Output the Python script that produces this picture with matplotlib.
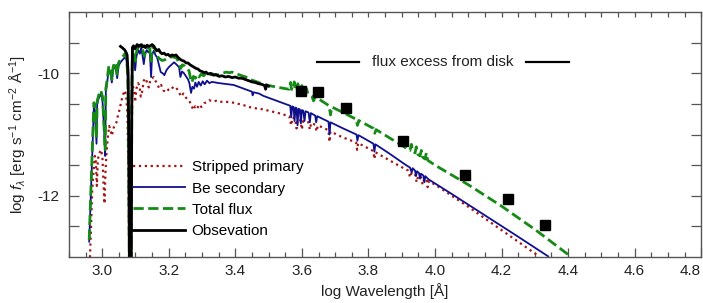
import matplotlib
matplotlib.use("Agg")
import matplotlib.pyplot as plt
from matplotlib.ticker import MultipleLocator, NullFormatter

plt.rcParams["font.family"] = ["Liberation Sans", "DejaVu Sans"]
plt.rcParams["mathtext.fontset"] = "custom"
plt.rcParams["mathtext.rm"] = "Liberation Sans"
plt.rcParams["mathtext.it"] = "Liberation Sans:italic"
plt.rcParams["axes.unicode_minus"] = False

# Stripped primary model (log wavelength, log flux)
sp_x = [2.962, 2.966, 2.970, 2.974, 2.978, 2.981, 2.984, 2.987, 2.992, 2.997, 3.001, 3.004, 3.007, 3.010,
        3.013, 3.017, 3.021, 3.025, 3.029, 3.034, 3.038, 3.043, 3.047, 3.051, 3.056, 3.060, 3.064, 3.068,
        3.072, 3.076, 3.079, 3.082, 3.087, 3.089, 3.091, 3.095, 3.099, 3.103, 3.108, 3.112, 3.116, 3.120,
        3.125, 3.130, 3.135, 3.140, 3.145, 3.150, 3.155, 3.160, 3.165, 3.171, 3.177, 3.184, 3.192, 3.200,
        3.208, 3.215, 3.222, 3.230, 3.237, 3.244, 3.252, 3.261, 3.268, 3.274, 3.279, 3.285, 3.291, 3.298,
        3.306, 3.314, 3.322, 3.332, 3.342, 3.351, 3.365, 3.380, 3.395, 3.410, 3.425, 3.441, 3.460, 3.475,
        3.492, 3.530, 3.562, 3.568, 3.572, 3.580, 3.584, 3.588, 3.596, 3.600, 3.604, 3.620, 3.624, 3.628,
        3.640, 3.644, 3.648, 3.680, 3.683, 3.686, 3.720, 3.763, 3.766, 3.769, 3.815, 3.818, 3.821, 3.860,
        3.892, 3.920, 3.925, 3.930, 3.940, 3.945, 3.950, 3.958, 3.963, 3.968, 3.975, 3.978, 3.982, 4.012,
        4.100, 4.200, 4.310]
sp_y = [-13.20, -12.60, -11.92, -11.60, -11.35, -11.45, -11.84, -11.40, -11.30, -11.25, -11.40, -11.80, -12.13, -11.60,
        -11.30, -11.05, -10.86, -10.92, -11.02, -10.90, -10.84, -10.80, -10.70, -10.62, -10.50, -10.40, -10.33, -10.28,
        -10.35, -10.70, -11.60, -13.50, -13.50, -10.80, -10.20, -10.25, -10.47, -10.25, -10.16, -10.20, -10.38, -10.30,
        -10.12, -10.08, -10.15, -10.23, -10.10, -10.08, -10.06, -10.12, -10.17, -10.24, -10.19, -10.28, -10.31, -10.26,
        -10.22, -10.25, -10.23, -10.30, -10.38, -10.33, -10.40, -10.44, -10.52, -10.60, -10.54, -10.58, -10.51, -10.55,
        -10.49, -10.47, -10.44, -10.46, -10.45, -10.47, -10.46, -10.47, -10.48, -10.50, -10.52, -10.55, -10.57, -10.58,
        -10.60, -10.65, -10.70, -10.85, -10.72, -10.74, -10.90, -10.75, -10.77, -10.92, -10.78, -10.80, -10.92, -10.81,
        -10.84, -10.95, -10.85, -10.93, -11.12, -10.95, -11.04, -11.13, -11.25, -11.14, -11.27, -11.40, -11.29, -11.41,
        -11.51, -11.59, -11.70, -11.62, -11.65, -11.78, -11.67, -11.70, -11.82, -11.72, -11.74, -11.86, -11.76, -11.86,
        -12.18, -12.56, -12.98]

# Be secondary model
be_x = [2.961, 2.964, 2.967, 2.971, 2.975, 2.978, 2.981, 2.983, 2.985, 2.990, 2.996, 3.001, 3.004, 3.006,
        3.009, 3.011, 3.015, 3.020, 3.025, 3.029, 3.033, 3.037, 3.041, 3.045, 3.049, 3.053, 3.058, 3.063,
        3.068, 3.073, 3.077, 3.080, 3.082, 3.087, 3.089, 3.091, 3.095, 3.099, 3.103, 3.108, 3.113, 3.117,
        3.121, 3.125, 3.129, 3.134, 3.139, 3.143, 3.147, 3.150, 3.155, 3.160, 3.165, 3.170, 3.176, 3.182,
        3.187, 3.193, 3.200, 3.208, 3.216, 3.224, 3.231, 3.235, 3.240, 3.246, 3.252, 3.258, 3.262, 3.267,
        3.271, 3.276, 3.280, 3.285, 3.290, 3.296, 3.302, 3.308, 3.315, 3.322, 3.330, 3.340, 3.351, 3.365,
        3.380, 3.395, 3.410, 3.425, 3.440, 3.450, 3.452, 3.455, 3.471, 3.485, 3.500, 3.530, 3.560, 3.565,
        3.568, 3.571, 3.575, 3.578, 3.581, 3.584, 3.587, 3.590, 3.594, 3.597, 3.600, 3.604, 3.608, 3.611,
        3.620, 3.624, 3.627, 3.640, 3.643, 3.646, 3.680, 3.683, 3.686, 3.720, 3.764, 3.767, 3.770, 3.815,
        3.818, 3.821, 3.860, 3.892, 3.913, 3.925, 3.930, 3.933, 3.940, 3.943, 3.946, 3.952, 3.955, 3.958,
        3.965, 3.968, 3.971, 3.980, 4.050, 4.150, 4.250, 4.340]
be_y = [-12.75, -12.30, -11.80, -11.20, -10.55, -10.60, -10.95, -11.15, -10.50, -10.40, -10.33, -10.45, -10.75, -10.95,
        -11.35, -10.30, -10.15, -9.93, -10.00, -10.15, -9.95, -9.87, -9.92, -10.08, -9.88, -9.84, -9.80, -9.77,
        -9.74, -9.78, -10.10, -11.50, -13.50, -13.50, -10.50, -9.65, -9.70, -9.95, -9.72, -9.62, -9.68, -9.58,
        -9.70, -9.85, -9.68, -9.62, -9.66, -9.63, -10.06, -9.70, -9.63, -9.70, -9.74, -9.85, -9.98, -10.00,
        -10.03, -9.95, -9.90, -9.86, -9.82, -9.86, -9.90, -10.06, -9.97, -10.00, -10.05, -10.10, -10.16, -10.32,
        -10.22, -10.25, -10.15, -10.22, -10.14, -10.20, -10.13, -10.18, -10.12, -10.16, -10.14, -10.15, -10.16, -10.17,
        -10.18, -10.19, -10.22, -10.25, -10.28, -10.30, -10.36, -10.31, -10.33, -10.37, -10.40, -10.46, -10.52, -10.53,
        -10.72, -10.54, -10.55, -10.78, -10.56, -10.57, -10.85, -10.58, -10.59, -10.82, -10.60, -10.61, -10.78, -10.62,
        -10.64, -10.80, -10.65, -10.69, -10.80, -10.70, -10.79, -11.00, -10.80, -10.89, -11.00, -11.10, -11.01, -11.15,
        -11.28, -11.16, -11.30, -11.42, -11.50, -11.54, -11.62, -11.55, -11.59, -11.68, -11.60, -11.63, -11.72, -11.64,
        -11.67, -11.78, -11.68, -11.73, -11.97, -12.32, -12.67, -12.99]

# Total model flux
tot_x = [2.961, 2.964, 2.967, 2.971, 2.975, 2.978, 2.981, 2.983, 2.985, 2.990, 2.996, 3.001, 3.004, 3.006,
         3.009, 3.011, 3.015, 3.020, 3.025, 3.029, 3.033, 3.037, 3.041, 3.045, 3.049, 3.053, 3.058, 3.063,
         3.068, 3.073, 3.077, 3.080, 3.082, 3.087, 3.089, 3.091, 3.095, 3.100, 3.104, 3.110, 3.117, 3.122,
         3.127, 3.132, 3.138, 3.143, 3.147, 3.150, 3.155, 3.160, 3.165, 3.172, 3.180, 3.188, 3.195, 3.201,
         3.210, 3.218, 3.225, 3.231, 3.236, 3.241, 3.248, 3.255, 3.261, 3.266, 3.270, 3.274, 3.280, 3.285,
         3.291, 3.298, 3.305, 3.312, 3.321, 3.332, 3.342, 3.351, 3.362, 3.372, 3.382, 3.390, 3.400, 3.410,
         3.420, 3.432, 3.445, 3.460, 3.475, 3.492, 3.510, 3.530, 3.550, 3.562, 3.566, 3.569, 3.574, 3.577,
         3.580, 3.585, 3.588, 3.591, 3.596, 3.600, 3.603, 3.610, 3.614, 3.618, 3.630, 3.635, 3.640, 3.645,
         3.682, 3.686, 3.690, 3.720, 3.763, 3.767, 3.771, 3.815, 3.819, 3.823, 3.862, 3.913, 3.925, 3.929,
         3.933, 3.940, 3.944, 3.948, 3.955, 3.959, 3.963, 3.970, 3.974, 3.978, 4.000, 4.100, 4.200, 4.300,
         4.400]
tot_y = [-12.72, -12.25, -11.75, -11.15, -10.48, -10.52, -10.85, -11.05, -10.45, -10.35, -10.28, -10.38, -10.70, -10.88,
         -11.25, -10.25, -10.10, -9.88, -9.95, -10.10, -9.90, -9.82, -9.87, -10.02, -9.83, -9.79, -9.75, -9.72,
         -9.68, -9.72, -10.05, -11.50, -13.50, -13.50, -10.40, -9.58, -9.62, -9.80, -9.62, -9.56, -9.55, -9.62,
         -9.72, -9.62, -9.57, -9.60, -9.80, -9.60, -9.55, -9.62, -9.72, -9.76, -9.79, -9.78, -9.75, -9.74,
         -9.73, -9.74, -9.76, -9.85, -9.92, -9.86, -9.88, -9.92, -9.96, -10.10, -10.15, -10.05, -10.08, -10.02,
         -10.06, -10.01, -10.04, -10.00, -10.03, -10.01, -10.03, -10.02, -10.00, -9.98, -9.99, -9.98, -10.00, -10.02,
         -10.04, -10.06, -10.10, -10.13, -10.16, -10.19, -10.21, -10.23, -10.25, -10.26, -10.15, -10.26, -10.27, -10.14,
         -10.27, -10.28, -10.17, -10.29, -10.30, -10.20, -10.30, -10.32, -10.25, -10.33, -10.37, -10.45, -10.39, -10.40,
         -10.53, -10.68, -10.55, -10.63, -10.75, -10.85, -10.77, -10.90, -10.98, -10.92, -11.05, -11.22, -11.26, -11.16,
         -11.27, -11.30, -11.20, -11.32, -11.35, -11.26, -11.37, -11.40, -11.30, -11.42, -11.50, -11.82, -12.17, -12.55,
         -12.96]

# Observed UV spectrum
obs_x = [3.055, 3.060, 3.064, 3.068, 3.072, 3.075, 3.078, 3.080, 3.082, 3.087, 3.089, 3.091, 3.094, 3.098,
         3.101, 3.105, 3.110, 3.114, 3.118, 3.122, 3.126, 3.130, 3.135, 3.140, 3.145, 3.150, 3.155, 3.160,
         3.165, 3.170, 3.175, 3.180, 3.186, 3.192, 3.198, 3.204, 3.210, 3.216, 3.222, 3.228, 3.234, 3.240,
         3.246, 3.252, 3.258, 3.264, 3.270, 3.276, 3.282, 3.288, 3.294, 3.300, 3.306, 3.312, 3.318, 3.326,
         3.334, 3.342, 3.351, 3.360, 3.370, 3.380, 3.390, 3.400, 3.410, 3.420, 3.430, 3.440, 3.450, 3.460,
         3.470, 3.480, 3.488, 3.491, 3.494, 3.500]
obs_y = [-9.56, -9.58, -9.60, -9.62, -9.66, -9.70, -10.00, -11.00, -13.50, -13.50, -10.50, -9.58, -9.55, -9.60,
         -9.57, -9.53, -9.56, -9.54, -9.53, -9.57, -9.55, -9.58, -9.54, -9.56, -9.55, -9.53, -9.56, -9.60,
         -9.63, -9.61, -9.66, -9.68, -9.67, -9.70, -9.69, -9.72, -9.70, -9.71, -9.70, -9.74, -9.77, -9.79,
         -9.80, -9.83, -9.83, -9.86, -9.88, -9.90, -9.92, -9.93, -9.96, -9.97, -9.99, -9.98, -10.01, -10.00,
         -10.03, -10.02, -10.05, -10.04, -10.06, -10.05, -10.07, -10.06, -10.08, -10.08, -10.10, -10.12, -10.14, -10.15,
         -10.17, -10.18, -10.20, -10.26, -10.19, -10.21]

# Optical / IR photometry
phot_x = [3.598, 3.649, 3.733, 3.904, 4.090, 4.219, 4.330]
phot_y = [-10.29, -10.31, -10.56, -11.10, -11.66, -12.06, -12.47]

# "flux excess from disk" marker
disk_left = [3.645, 3.772]
disk_right = [4.273, 4.402]
disk_level = -9.81

fig = plt.figure(figsize=(7.03, 3.03), dpi=100)
ax = fig.add_axes([0.098, 0.152, 0.8995, 0.808])

ax.plot(sp_x, sp_y, color="#a31515", linestyle=":", linewidth=1.6, label="Stripped primary")
ax.plot(be_x, be_y, color="#10108f", linewidth=1.3, label="Be secondary")
ax.plot(tot_x, tot_y, color="#158a15", linestyle="--", linewidth=2.0, label="Total flux")
ax.plot(obs_x, obs_y, color="black", linewidth=2.0, label="Obsevation")
ax.plot(phot_x, phot_y, linestyle="none", marker="s", markersize=6.5, color="black")

ax.plot(disk_left, [disk_level] * 2, color="black", linewidth=1.6)
ax.plot(disk_right, [disk_level] * 2, color="black", linewidth=1.6)
ax.text((disk_left[1] + disk_right[0]) / 2, disk_level, "flux excess from disk",
        ha="center", va="center", fontsize=11, color="#222222")

ax.set_xlim(2.9, 4.8)
ax.set_ylim(-13, -9)

xt = [3.0, 3.2, 3.4, 3.6, 3.8, 4.0, 4.2, 4.4, 4.6, 4.8]
ax.set_xticks(xt)
ax.set_xticklabels([f"{v:.1f}" for v in xt])
ax.xaxis.set_minor_locator(MultipleLocator(0.05))
# last label sits against the figure edge, keep it inside
ax.get_xticklabels()[-1].set_horizontalalignment("right")

yt = [-12.5, -12, -11.5, -11, -10.5, -10, -9.5]
ax.set_yticks(yt)
ax.set_yticklabels(["" if v not in (-10, -12) else f"{v:.0f}" for v in yt])

ax.tick_params(axis="x", which="major", direction="in", length=6.5, width=0.9, color="#555555",
               labelsize=11, labelcolor="#222222", pad=5)
ax.tick_params(axis="x", which="minor", direction="in", length=3.3, width=0.9, color="#555555")
ax.tick_params(axis="y", which="major", direction="in", length=7.5, width=0.9, color="#555555",
               labelsize=11, labelcolor="#222222", right=True, pad=7)

top = ax.secondary_xaxis("top")
top.xaxis.set_major_locator(MultipleLocator(0.05))
top.xaxis.set_major_formatter(NullFormatter())
top.tick_params(direction="in", length=3.5, width=0.9, color="#555555")
top.spines["top"].set_visible(False)

for s in ax.spines.values():
    s.set_color("#555555")
    s.set_linewidth(1.0)

ax.set_xlabel("log Wavelength [Å]", fontsize=11, color="#222222", labelpad=4)
ax.set_ylabel(r"log $f_\lambda$ [erg s$^{-1}$ cm$^{-2}$ Å$^{-1}$]", fontsize=11, color="#222222", labelpad=6)

ax.legend(loc="upper left", bbox_to_anchor=(0.101, 0.394), frameon=False, fontsize=11,
          borderpad=0, borderaxespad=0, labelspacing=0.47, handlelength=3.4, handletextpad=0.45)

fig.savefig("out.png", dpi=100)
